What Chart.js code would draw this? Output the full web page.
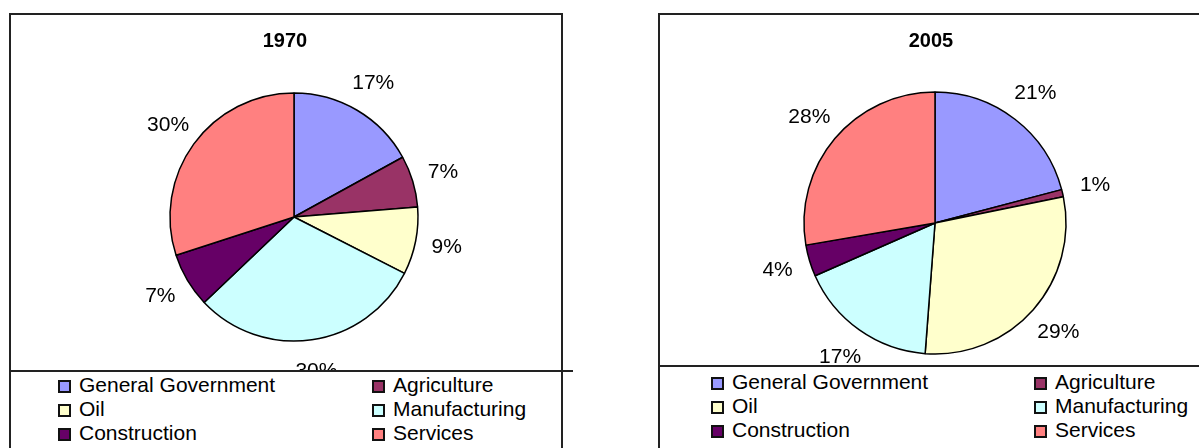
<!DOCTYPE html>
<html>
<head>
<meta charset="utf-8">
<script src="https://cdn.jsdelivr.net/npm/chart.js@4/dist/chart.umd.min.js"></script>
<style>
  body { margin: 0; width: 1199px; height: 448px; overflow: hidden; background: #fff;
         font-family: "Liberation Sans", Arial, sans-serif; }
  .abs { position: absolute; }
  .panel { border: 2px solid #222; box-sizing: border-box; z-index: 4; }
  .title { font-weight: bold; font-size: 20px; text-align: center; height: 24px; line-height: 24px; z-index: 2; }
  .legend { background: #fff; z-index: 2; }
  .sep { background: #222; height: 2px; z-index: 5; }
  .item { font-size: 21px; line-height: 22px; height: 22px; white-space: nowrap; }
  .swatch { width: 13px; height: 13px; border: 2px solid #111; box-sizing: border-box; display: inline-block; vertical-align: -1px; }
</style>
</head>
<body>

<!-- left panel: 1970 -->
<div class="abs panel" style="left:9px;top:13px;width:554px;height:460px"></div>
<div class="abs title" style="left:9px;top:28px;width:552px">1970</div>
<canvas id="chart1970" class="abs" width="560" height="400" style="left:14px;top:17px"></canvas>
<div class="abs legend" id="legend1970" style="left:11px;top:371px;width:550px;height:80px"></div>
<div class="abs sep" style="left:9px;top:370px;width:564px"></div>

<!-- right panel: 2005 -->
<div class="abs panel" style="left:658px;top:13px;width:560px;height:460px"></div>
<div class="abs title" style="left:658px;top:28px;width:546px">2005</div>
<canvas id="chart2005" class="abs" width="560" height="400" style="left:655px;top:23px"></canvas>
<div class="abs legend" id="legend2005" style="left:660px;top:366px;width:539px;height:85px"></div>
<div class="abs sep" style="left:658px;top:365px;width:541px"></div>

<script>
// categories and shares (percent)
const sectors = ["General Government", "Agriculture", "Oil", "Manufacturing", "Construction", "Services"];
const shares1970 = [17.0, 6.7, 8.8, 30.4, 7.1, 30.0];
const shares2005 = [20.9, 0.9, 29.4, 17.2, 3.9, 27.7];
const sectorColors = ["#9999FF", "#993366", "#FFFFCC", "#CCFFFF", "#660066", "#FF8080"];

// percentage labels placed just outside each slice
const pctLabels = {
    id: 'pctLabels',
    afterDatasetsDraw(chart) {
        const ctx = chart.ctx;
        const meta = chart.getDatasetMeta(0);
        const values = chart.data.datasets[0].data;
        const total = values.reduce((a, b) => a + b, 0);
        ctx.save();
        ctx.font = '21px "Liberation Sans", Arial, sans-serif';
        ctx.fillStyle = '#000';
        ctx.textAlign = 'center';
        ctx.textBaseline = 'middle';
        meta.data.forEach((arc, i) => {
            const p = arc.getProps(['x', 'y', 'startAngle', 'endAngle', 'outerRadius'], true);
            const mid = (p.startAngle + p.endAngle) / 2;
            const d = p.outerRadius * 1.255;
            const text = Math.round(values[i] / total * 100) + '%';
            ctx.fillText(text, p.x + Math.cos(mid) * d, p.y + Math.sin(mid) * d);
        });
        ctx.restore();
    }
};

function makePie(id, values, radius) {
    const ctx = document.getElementById(id).getContext('2d');
    return new Chart(ctx, {
        type: 'pie',
        data: {
            labels: sectors,
            datasets: [{
                data: values,
                backgroundColor: sectorColors,
                borderColor: '#000',
                borderWidth: 1.5,
                radius: radius
            }]
        },
        options: {
            responsive: false,
            animation: false,
            events: [],
            layout: { padding: 0 },
            plugins: {
                legend: { display: false },
                tooltip: { enabled: false }
            }
        },
        plugins: [pctLabels]
    });
}

// legend: two columns, three rows
function buildLegend(id, col1, col2, firstRow) {
    const box = document.getElementById(id);
    sectors.forEach((name, i) => {
        const col = i % 2;
        const row = Math.floor(i / 2);
        const item = document.createElement('div');
        item.className = 'abs item';
        item.style.left = (col === 0 ? col1 : col2) + 'px';
        item.style.top = (firstRow + row * 24 - 11) + 'px';
        const sw = document.createElement('span');
        sw.className = 'swatch';
        sw.style.background = sectorColors[i];
        const label = document.createElement('span');
        label.textContent = name;
        label.style.marginLeft = '8px';
        item.appendChild(sw);
        item.appendChild(label);
        box.appendChild(item);
    });
}

makePie('chart1970', shares1970, 124);
makePie('chart2005', shares2005, 131);
buildLegend('legend1970', 47, 361, 14);
buildLegend('legend2005', 51, 374, 16);
</script>
</body>
</html>
